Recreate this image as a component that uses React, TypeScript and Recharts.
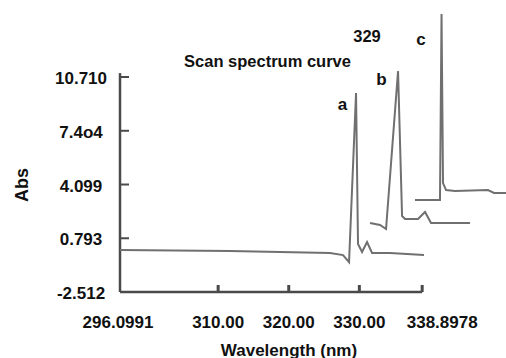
import React from 'react';
import { LineChart, Line, XAxis, YAxis, ReferenceLine } from 'recharts';

// Curve a
const wavelengthA = [296.1, 311.68, 325.85, 327.69, 328.54, 329.53, 329.81, 330.38, 331.09, 331.8, 334.34, 339.16];
const absA = [0.07, 0.01, -0.11, -0.24, -0.67, 9.73, 0.44, -0.05, 0.56, -0.11, -0.11, -0.24];
// Curve b
const wavelengthB = [331.51, 332.93, 333.78, 335.48, 336.05, 336.47, 338.31, 339.3, 340.15, 345.68];
const absB = [1.73, 1.61, 1.36, 11.08, 2.16, 1.98, 1.98, 2.41, 1.73, 1.73];
// Curve c
const wavelengthC = [337.88, 341.42, 341.64, 341.85, 342.28, 343.55, 348.22, 349.07, 350.77];
const absC = [3.15, 3.15, 14.58, 4.19, 3.76, 3.7, 3.76, 3.58, 3.58];

const xTicks = [296.0991, 310, 320, 330, 338.8978];
const xTickLabels = ['296.0991', '310.00', '320.00', '330.00', '338.8978'];
const yTicks = [-2.512, 0.793, 4.099, 7.404, 10.71];
const yTickLabels = ['-2.512', '0.793', '4.099', '7.4o4', '10.710'];

const X_MIN = 296.0991;
const X_MAX = 350.77;
const Y_MIN = -2.512;
const Y_MAX = 15.14;

const toPoints = (xs: number[], ys: number[]) => xs.map((x, i) => ({ x, y: ys[i] }));
const dataA = toPoints(wavelengthA, absA);
const dataB = toPoints(wavelengthB, absB);
const dataC = toPoints(wavelengthC, absC);

const FONT = '"Liberation Sans", Arial, sans-serif';
const AXIS = '#4a4a4a';
const LINE = '#707070';
const TEXT = '#111';

const YTick = (props: any) => {
  const { x, y, payload } = props;
  const i = yTicks.indexOf(payload.value);
  return (
    <g>
      <line x1={x} y1={y} x2={x + 9} y2={y} stroke={AXIS} strokeWidth={2} />
      <text x={x - 39} y={y} dy={7} textAnchor="middle" fontFamily={FONT} fontWeight="bold" fontSize={17} fill={TEXT}>
        {yTickLabels[i]}
      </text>
    </g>
  );
};

const XTick = (props: any) => {
  const { x, y, payload } = props;
  const i = xTicks.indexOf(payload.value);
  const last = i === xTicks.length - 1;
  return (
    <g>
      {i > 0 && <line x1={x} y1={y} x2={x} y2={y - 7} stroke={AXIS} strokeWidth={3} />}
      <text x={x + (last ? 20 : 0) - (i === 0 ? 2 : 0)} y={y + 36} textAnchor="middle" fontFamily={FONT} fontWeight="bold" fontSize={17} fill={TEXT}>
        {xTickLabels[i]}
      </text>
    </g>
  );
};

export default function App() {
  return (
    <div style={{ position: 'absolute', left: 0, top: 0, width: 506, height: 358, background: '#fff' }}>
      <LineChart width={506} height={358} data={dataA} margin={{ top: 5, right: 0, bottom: 0, left: 0 }}>
        <XAxis
          type="number"
          dataKey="x"
          domain={[X_MIN, X_MAX]}
          allowDataOverflow
          ticks={xTicks}
          tick={<XTick />}
          height={66}
          axisLine={false}
          tickLine={false}
          tickSize={0}
          tickMargin={0}
          interval={0}
        />
        <YAxis
          type="number"
          domain={[Y_MIN, Y_MAX]}
          allowDataOverflow
          ticks={yTicks}
          tick={<YTick />}
          width={120}
          axisLine={false}
          tickLine={false}
          tickSize={0}
          tickMargin={0}
          interval={0}
        />
        <ReferenceLine
          segment={[{ x: X_MIN, y: Y_MIN }, { x: 338.8978, y: Y_MIN }]}
          stroke={AXIS}
          strokeWidth={2.5}
        />
        <ReferenceLine
          segment={[{ x: X_MIN, y: Y_MIN }, { x: X_MIN, y: 10.95 }]}
          stroke={AXIS}
          strokeWidth={2.5}
        />
        <Line data={dataA} dataKey="y" type="linear" stroke={LINE} strokeWidth={2} dot={false} isAnimationActive={false} />
        <Line data={dataB} dataKey="y" type="linear" stroke={LINE} strokeWidth={2} dot={false} isAnimationActive={false} />
        <Line data={dataC} dataKey="y" type="linear" stroke={LINE} strokeWidth={2} dot={false} isAnimationActive={false} />
      </LineChart>
      <svg width={506} height={358} style={{ position: 'absolute', left: 0, top: 0, pointerEvents: 'none' }}>
        <g fontFamily={FONT} fontWeight="bold" fill={TEXT}>
          <text x={267.5} y={67} fontSize={16.5} textAnchor="middle">Scan spectrum curve</text>
          <text x={367} y={41.5} fontSize={16.5} textAnchor="middle">329</text>
          <text x={342.5} y={110} fontSize={17} textAnchor="middle">a</text>
          <text x={381.5} y={85} fontSize={17} textAnchor="middle">b</text>
          <text x={421} y={45} fontSize={17} textAnchor="middle">c</text>
          <text x={289} y={355.5} fontSize={17} textAnchor="middle">Wavelength (nm)</text>
          <text x={28} y={185} fontSize={18} textAnchor="middle" transform="rotate(-90 28 185)">Abs</text>
        </g>
      </svg>
    </div>
  );
}
